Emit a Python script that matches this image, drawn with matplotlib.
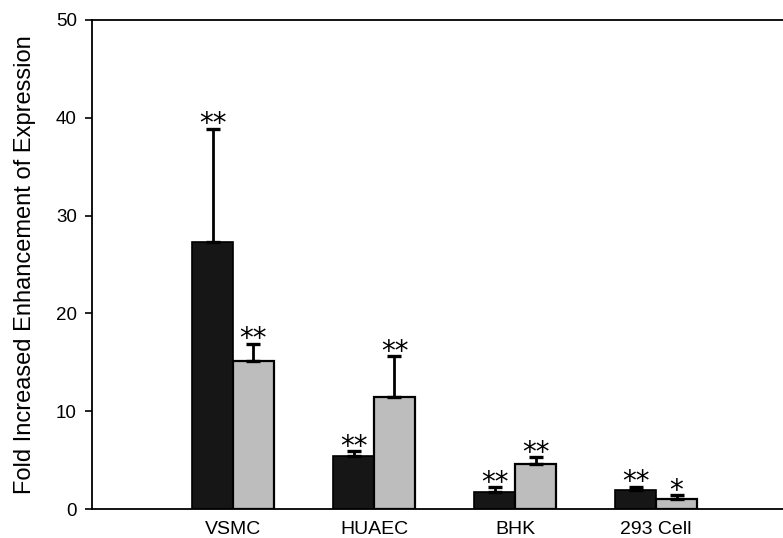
import matplotlib
matplotlib.use("Agg")
import matplotlib.pyplot as plt
import numpy as np

plt.rcParams['font.family'] = ['Liberation Sans', 'DejaVu Sans']

categories = ["VSMC", "HUAEC", "BHK", "293 Cell"]
dark_vals = [27.3, 5.4, 1.7, 1.9]
dark_err = [11.6, 0.5, 0.5, 0.4]
light_vals = [15.1, 11.5, 4.6, 1.0]
light_err = [1.8, 4.1, 0.7, 0.4]
dark_stars = ["**", "**", "**", "**"]
light_stars = ["**", "**", "**", "*"]
yticks = [0, 10, 20, 30, 40, 50]

fig = plt.figure(figsize=(7.83, 5.38), dpi=100)
ax = fig.add_axes([92/783, 29/538, 1 - 92/783, 489/538])

x = np.arange(len(categories))
w = 0.29
ek = dict(ecolor='black', elinewidth=2, capsize=5, capthick=2.4)
ax.bar(x - w/2, dark_vals, w, color='#161616', edgecolor='black', linewidth=1.2,
       yerr=[np.zeros(len(x)), dark_err], error_kw=ek, zorder=2)
ax.bar(x + w/2, light_vals, w, color='#bdbdbd', edgecolor='black', linewidth=1.6,
       yerr=[np.zeros(len(x)), light_err], error_kw=ek, zorder=2)

for i in range(len(x)):
    ax.annotate(dark_stars[i], (x[i] - w/2, dark_vals[i] + dark_err[i]),
                xytext=(0, -7), textcoords='offset points', ha='center', va='bottom',
                fontsize=20, family='DejaVu Sans')
    ax.annotate(light_stars[i], (x[i] + w/2, light_vals[i] + light_err[i]),
                xytext=(0, -7), textcoords='offset points', ha='center', va='bottom',
                fontsize=20, family='DejaVu Sans')

ax.set_xlim(-1.0, 3.9)
ax.set_ylim(0, 50)
ax.set_yticks(yticks)
ax.set_xticks(x)
ax.set_xticklabels(categories, fontsize=14)
ax.tick_params(axis='x', length=0, pad=9)
ax.tick_params(axis='y', labelsize=13.5, length=5, width=1.2, direction='out', pad=6)
ax.set_ylabel("Fold Increased Enhancement of Expression", fontsize=17, labelpad=14)
ax.spines['right'].set_visible(False)
for s in ['left', 'bottom', 'top']:
    ax.spines[s].set_linewidth(1.3)

fig.savefig("out.png", dpi=100)
